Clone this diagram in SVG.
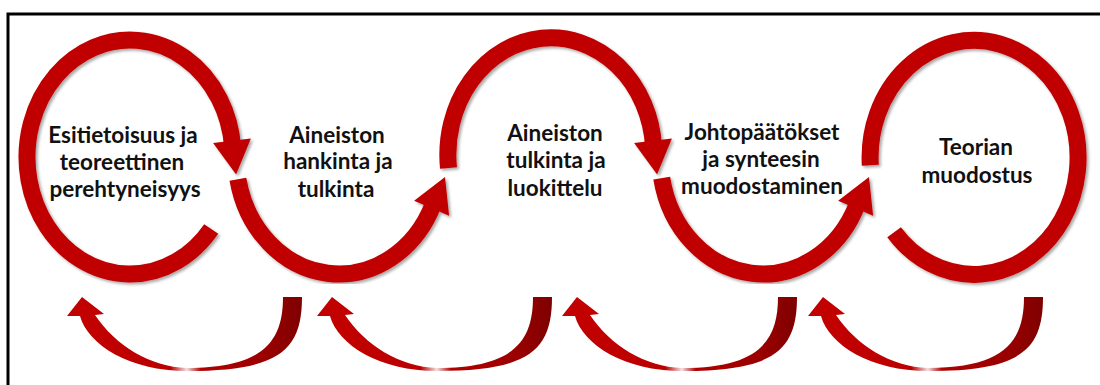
<svg xmlns="http://www.w3.org/2000/svg" width="1100" height="385" viewBox="0 0 1100 385">
  <style>
    .ring { fill: none; stroke: #C00000; stroke-width: 17; stroke-linecap: butt; }
    .head { fill: #C00000; stroke: none; }
    .lbl { font-family: Lato, "Open Sans", sans-serif; font-weight: bold; font-size: 22.5px; fill: #111; text-anchor: middle; }
    .frame { fill: none; stroke: #000; stroke-width: 3; }
  </style>
  <defs>
    <filter id="sh" x="-10%" y="-10%" width="120%" height="120%">
      <feDropShadow dx="2" dy="2" stdDeviation="1.6" flood-color="#000" flood-opacity="0.35"/>
    </filter>
    <linearGradient id="bg" x1="0" y1="0" x2="1" y2="0">
      <stop offset="0" stop-color="#C40000"/>
      <stop offset="0.44" stop-color="#BA0000"/>
      <stop offset="0.51" stop-color="#F4E2E2"/>
      <stop offset="0.57" stop-color="#B00000"/>
      <stop offset="0.85" stop-color="#9A0000"/>
      <stop offset="1" stop-color="#7E0000"/>
    </linearGradient>
    <path id="back" d="M 82,297 L 104,314 L 95,315 C 115,345 150,367 187,368 C 265,368 283,340 283,297 L 302,297 C 302,350 280,371 187,371 C 130,371 88,345 80,316 L 67,316 Z"/>
  </defs>

  <rect x="0" y="0" width="1100" height="385" fill="#fff"/>
  <path class="frame" d="M 8,385 V 14 H 1100"/>

  <g id="node1">
    <g filter="url(#sh)">
      <path class="ring" d="M 211.2,229 A 103 117 0 1 1 232.6,146.8"/>
      <polygon class="head" points="250.9,138.4 213.1,143 236.1,174.5"/>
    </g>
    <text class="lbl" x="123" y="143">Esitietoisuus ja</text>
    <text class="lbl" x="122" y="170">teoreettinen</text>
    <text class="lbl" x="125" y="197">perehtyneisyys</text>
  </g>

  <g id="node2">
    <g filter="url(#sh)">
      <path class="ring" d="M 237.9,179.3 A 103 117 0 0 0 433.1,204.6"/>
      <polygon class="head" points="449.1,215.8 414.1,200.8 445,177.1"/>
    </g>
    <text class="lbl" x="337" y="143">Aineiston</text>
    <text class="lbl" x="338" y="169">hankinta ja</text>
    <text class="lbl" x="336" y="197">tulkinta</text>
  </g>

  <g id="node3">
    <g filter="url(#sh)">
      <path class="ring" d="M 448.5,168 A 103 117 0 1 1 653.6,146.8"/>
      <polygon class="head" points="671.9,138.4 634.1,143 657.1,174.5"/>
    </g>
    <text class="lbl" x="555" y="141">Aineiston</text>
    <text class="lbl" x="556" y="168">tulkinta ja</text>
    <text class="lbl" x="555" y="196">luokittelu</text>
  </g>

  <g id="node4">
    <g filter="url(#sh)">
      <path class="ring" d="M 661.7,178.1 A 103 117 0 0 0 857.1,204.6"/>
      <polygon class="head" points="873.1,215.8 838.1,200.8 869,177.1"/>
    </g>
    <text class="lbl" x="762" y="140">Johtopäätökset</text>
    <text class="lbl" x="761" y="167">ja synteesin</text>
    <text class="lbl" x="762" y="194">muodostaminen</text>
  </g>

  <g id="node5">
    <g filter="url(#sh)">
      <path class="ring" d="M 870.3,165.2 A 104 117 0 1 1 894.1,232.2"/>
    </g>
    <text class="lbl" x="976" y="155">Teorian</text>
    <text class="lbl" x="977" y="183">muodostus</text>
  </g>

  <g id="connectors">
    <use href="#back" fill="url(#bg)"/>
    <use href="#back" fill="url(#bg)" transform="translate(250,0)"/>
    <use href="#back" fill="url(#bg)" transform="translate(495,0)"/>
    <use href="#back" fill="url(#bg)" transform="translate(741,0)"/>
  </g>
</svg>
